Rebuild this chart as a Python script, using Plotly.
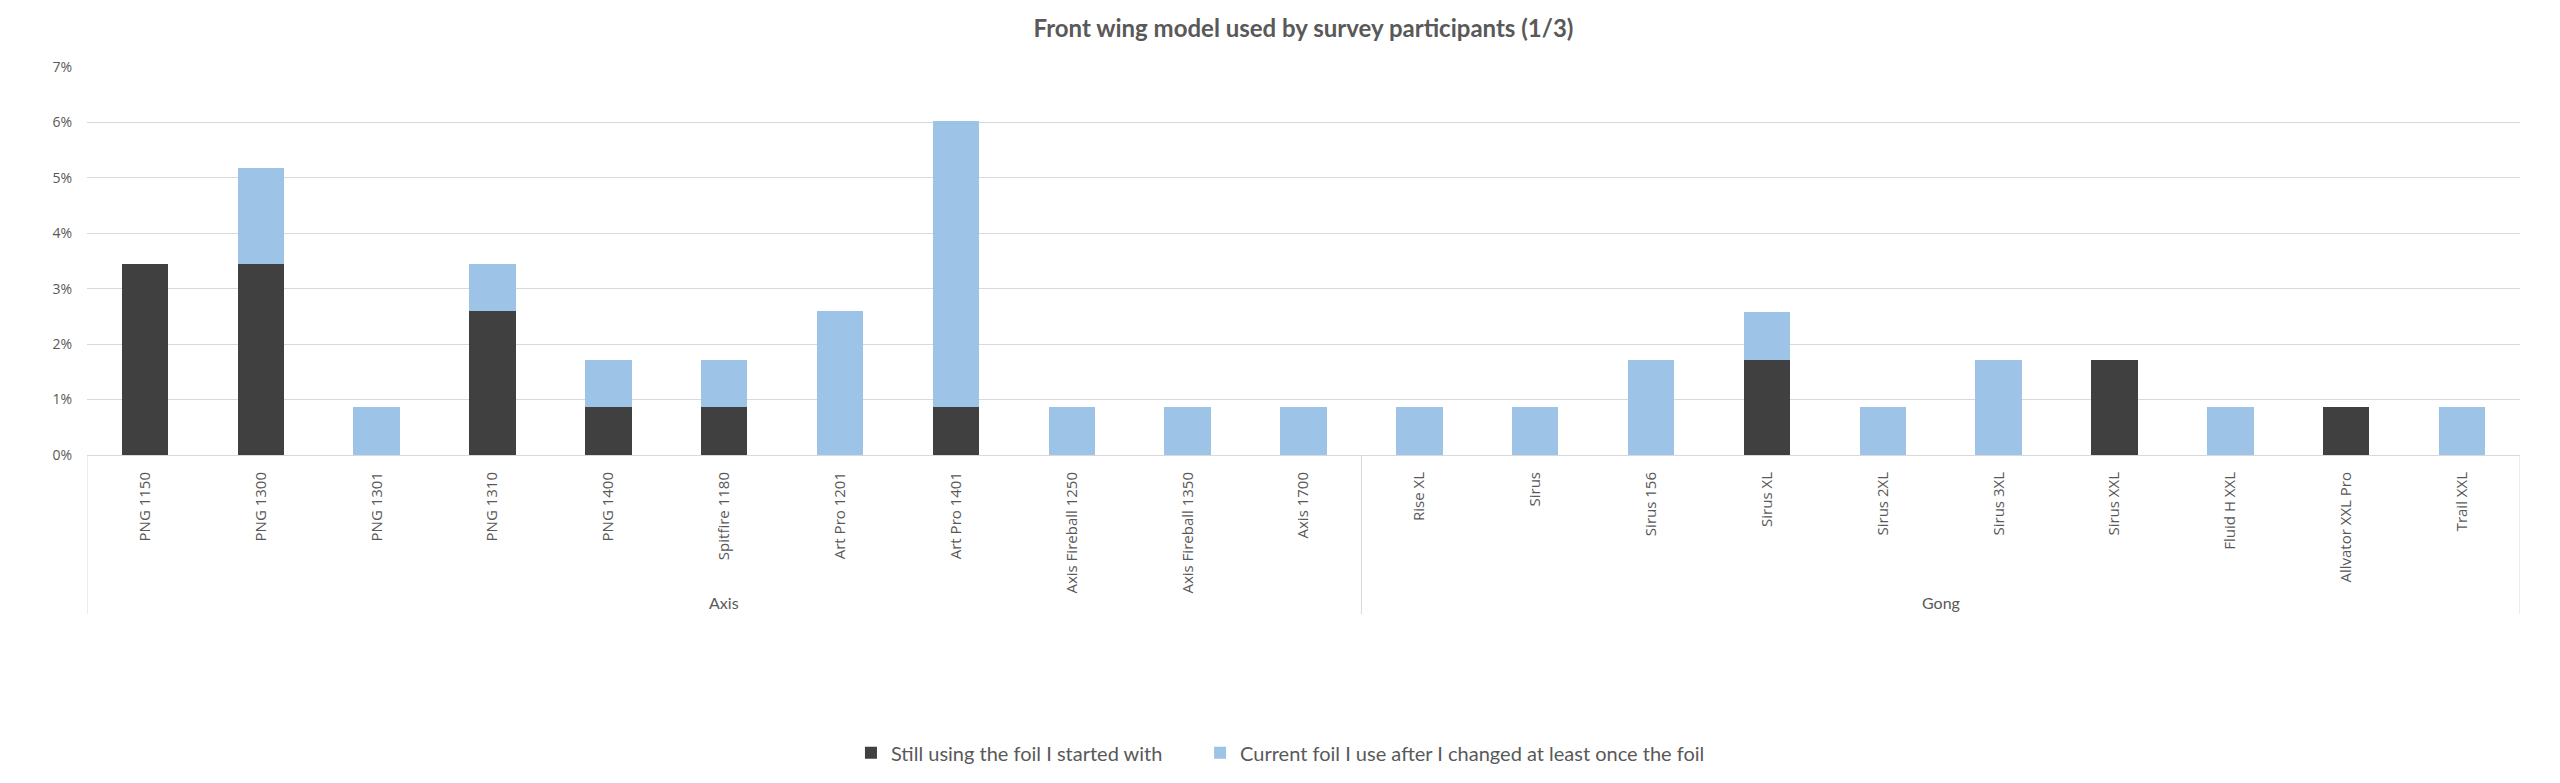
import plotly.graph_objects as go

# Survey data (share of participants)
groups = ["Axis"] * 11 + ["Gong"] * 10
models = [
    "PNG 1150", "PNG 1300", "PNG 1301", "PNG 1310", "PNG 1400", "Spitfire 1180",
    "Art Pro 1201", "Art Pro 1401", "Axis Fireball 1250", "Axis Fireball 1350", "Axis 1700",
    "Rise XL", "Sirus", "Sirus 156", "Sirus XL", "Sirus 2XL", "Sirus 3XL",
    "Sirus XXL", "Fluid H XXL", "Allvator XXL Pro", "Trail XXL",
]
still_using = [
    0.0345, 0.0345, 0.0, 0.0259, 0.0086, 0.0086,
    0.0, 0.0086, 0.0, 0.0, 0.0,
    0.0, 0.0, 0.0, 0.0172, 0.0, 0.0,
    0.0172, 0.0, 0.0086, 0.0,
]
changed = [
    0.0, 0.0172, 0.0086, 0.0086, 0.0086, 0.0086,
    0.0259, 0.0517, 0.0086, 0.0086, 0.0086,
    0.0086, 0.0086, 0.0172, 0.0086, 0.0086, 0.0172,
    0.0, 0.0086, 0.0, 0.0086,
]

text_grey = "#595959"
line_grey = "#d9d9d9"

fig = go.Figure()
fig.add_trace(go.Bar(
    x=models, y=still_using, name="Still using the foil I started with",
    marker=dict(color="#404040", line=dict(width=0)),
    legend="legend", showlegend=True,
))
fig.add_trace(go.Bar(
    x=models, y=changed, name="Current foil I use after I changed at least once the foil",
    marker=dict(color="#9dc3e6", line=dict(width=0)),
    legend="legend2", showlegend=True,
))

# group separators and labels under the category axis
group_names = []
for g in groups:
    if g not in group_names:
        group_names.append(g)
start = 0
edges = [-0.5]
for g in group_names:
    n = groups.count(g)
    fig.add_annotation(
        x=start + (n - 1) / 2, y=-0.38, xref="x", yref="paper",
        text=g, showarrow=False, yanchor="middle",
        font=dict(family="Lato", size=16, color=text_grey),
    )
    start += n
    edges.append(start - 0.5)
for e in edges:
    fig.add_shape(type="line", xref="x", yref="paper", x0=e, x1=e, y0=0, y1=-0.41,
                  line=dict(color=line_grey, width=1))

legend_style = dict(
    orientation="h", y=-0.763, yanchor="middle", xanchor="left",
    font=dict(family="Lato", size=20, color=text_grey), itemwidth=30,
)

fig.update_layout(
    barmode="stack",
    bargap=0.6,
    width=2560,
    height=783,
    showlegend=True,
    margin=dict(l=87, r=40, t=67, b=327),
    paper_bgcolor="white",
    plot_bgcolor="white",
    title=dict(
        text="<b>Front wing model used by survey participants (1/3)</b>",
        xref="paper", x=0.5, xanchor="center", y=0.963, yanchor="middle",
        font=dict(family="Lato", size=24, color=text_grey),
    ),
    xaxis=dict(
        type="category", tickangle=-90, showgrid=False,
        showline=True, linecolor=line_grey, linewidth=1,
        ticks="", ticklabelstandoff=10,
        tickfont=dict(family="Open Sans", size=15, color=text_grey),
        range=[-0.5, len(models) - 0.5],
    ),
    yaxis=dict(
        range=[0, 0.07], dtick=0.01, tickformat=".0%",
        gridcolor=line_grey, gridwidth=1, zeroline=False,
        showline=False, ticks="", ticklabelstandoff=14,
        tickfont=dict(family="Open Sans", size=14, color=text_grey),
    ),
    legend=dict(x=0.314, **legend_style),
    legend2=dict(x=0.4575, **legend_style),
)

fig.write_html("out.html", config={"displayModeBar": False},
               post_script="document.body.style.margin='0';")
